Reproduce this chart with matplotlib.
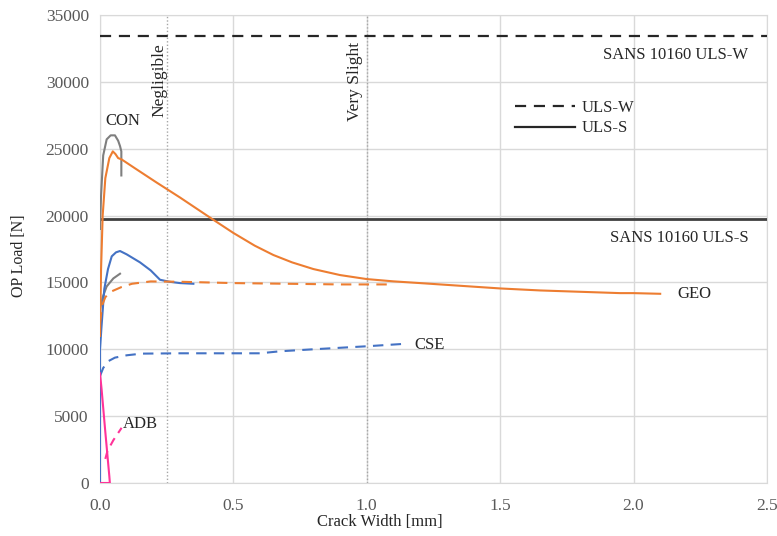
import matplotlib
matplotlib.use("Agg")
import matplotlib.pyplot as plt
from matplotlib.lines import Line2D

plt.rcParams['font.family'] = ['Liberation Serif', 'DejaVu Serif']

# GEO (solid, orange)
geo_x = [0.0, 0.004, 0.01, 0.02, 0.035, 0.048, 0.058, 0.068, 0.081, 0.13, 0.21, 0.3, 0.42,
         0.5, 0.58, 0.65, 0.72, 0.8, 0.9, 1.0, 1.1, 1.2, 1.35, 1.5, 1.65, 1.8, 1.95, 2.0, 2.1]
geo_y = [11000, 16000, 20000, 22800, 24300, 24800, 24600, 24300, 24200, 23550, 22500, 21350, 19750,
         18700, 17750, 17050, 16500, 16000, 15550, 15250, 15080, 14950, 14750, 14550, 14400, 14300, 14200, 14200, 14150]

# GEO (dashed, orange)
geo2_x = [0.0, 0.008, 0.02, 0.04, 0.08, 0.12, 0.19, 0.3, 0.5, 0.7, 0.9, 1.09]
geo2_y = [12000, 13300, 13900, 14300, 14650, 14900, 15075, 15050, 14950, 14900, 14850, 14850]

# CON (grey)
con_x = [0.0, 0.004, 0.012, 0.025, 0.04, 0.056, 0.068, 0.075, 0.08, 0.08]
con_y = [19000, 21500, 24500, 25700, 26000, 26000, 25600, 25200, 24800, 23000]
con2_x = [0.0, 0.01, 0.025, 0.05, 0.075]
con2_y = [13000, 13900, 14700, 15300, 15650]

# CSE (solid, blue)
cse_x = [0.0, 0.0, 0.005, 0.016, 0.03, 0.044, 0.06, 0.075, 0.1, 0.15, 0.19, 0.225, 0.26, 0.3, 0.35]
cse_y = [0, 10000, 11500, 14500, 16000, 16950, 17250, 17350, 17100, 16500, 15900, 15200, 15050, 14950, 14900]

# CSE (dashed, blue)
cse2_x = [0.0, 0.004, 0.012, 0.03, 0.056, 0.1, 0.156, 0.3, 0.45, 0.6, 0.675, 0.8, 1.0, 1.155]
cse2_y = [8000, 8200, 8600, 9100, 9375, 9550, 9675, 9700, 9700, 9700, 9850, 10000, 10225, 10425]

# ADB (solid and dashed, pink)
adb_x = [0.0, 0.037, 0.035, 0.02, 0.006, 0.0]
adb_y = [0, 0, 500, 3800, 7000, 8200]
adb2_x = [0.02, 0.028, 0.05, 0.081]
adb2_y = [1800, 2400, 3200, 4125]

uls_w = 33450
uls_s = 19750

fig = plt.figure(figsize=(7.77, 5.36), dpi=100)
ax = fig.add_axes([0.1287, 0.0989, 0.8583, 0.8731])

orange = '#ED7D31'
blue = '#4472C4'
grey = '#7F7F7F'
pink = '#FF3399'
txt = '#262626'

ax.axhline(uls_w, color='#262626', lw=1.6, ls=(0, (5, 3.5)), zorder=3)
ax.axhline(uls_s, color='#404040', lw=2.0, zorder=3)

# crack width limits
ax.axvline(0.25, color='#a6a6a6', lw=1.0, ls=(0, (1, 1.5)), zorder=1)
ax.axvline(1.0, color='#a6a6a6', lw=1.0, ls=(0, (1, 1.5)), zorder=1)

ax.plot(con_x, con_y, color=grey, lw=1.5, zorder=4)
ax.plot(con2_x, con2_y, color=grey, lw=1.5, zorder=4)
ax.plot(cse_x, cse_y, color=blue, lw=1.5, zorder=4)
ax.plot(cse2_x, cse2_y, color=blue, lw=1.5, ls=(0, (5, 3.5)), zorder=4)
ax.plot(geo2_x, geo2_y, color=orange, lw=1.5, ls=(0, (5, 3.5)), zorder=4)
ax.plot(geo_x, geo_y, color=orange, lw=1.5, zorder=5)
ax.plot(adb_x, adb_y, color=pink, lw=1.5, zorder=5)
ax.plot(adb2_x, adb2_y, color=pink, lw=1.5, ls=(0, (4, 3)), zorder=5)

ax.set_xlim(0, 2.5)
ax.set_ylim(0, 35000)
ax.set_xticks([0.0, 0.5, 1.0, 1.5, 2.0, 2.5])
ax.set_xticklabels(['0.0', '0.5', '1.0', '1.5', '2.0', '2.5'])
ax.set_yticks(range(0, 35001, 5000))
ax.tick_params(length=0, labelsize=12.5, labelcolor='#595959')
ax.tick_params(axis='x', pad=11)
ax.tick_params(axis='y', pad=8)
ax.grid(True, color='#d9d9d9', lw=1.0, zorder=0)
ax.set_axisbelow(True)
for s in ax.spines.values():
    s.set_color('#d9d9d9')

ax.set_xlabel('Crack Width [mm]', fontsize=12, color=txt)
ax.set_ylabel('OP Load [N]', fontsize=11.5, color=txt)
ax.xaxis.set_label_coords(0.42, -0.066)
ax.yaxis.set_label_coords(-0.11, 0.485)

ax.text(0.02, 27100, 'CON', fontsize=12, color=txt, ha='left', va='center')
ax.text(2.165, 14100, 'GEO', fontsize=12, color=txt, ha='left', va='center')
ax.text(1.18, 10350, 'CSE', fontsize=12, color=txt, ha='left', va='center')
ax.text(0.085, 4400, 'ADB', fontsize=12, color=txt, ha='left', va='center')
ax.text(2.43, 32000, 'SANS 10160 ULS-W', fontsize=12, color=txt, ha='right', va='center')
ax.text(2.43, 18300, 'SANS 10160 ULS-S', fontsize=12, color=txt, ha='right', va='center')
ax.text(0.221, 27400, 'Negligible', fontsize=12.5, color=txt, rotation=90, ha='center', va='bottom')
ax.text(0.956, 27100, 'Very Slight', fontsize=12.5, color=txt, rotation=90, ha='center', va='bottom')

handles = [Line2D([], [], color='#262626', lw=1.6, ls=(0, (5, 3.5))),
           Line2D([], [], color='#262626', lw=1.6)]
ax.legend(handles, ['ULS-W', 'ULS-S'], loc='upper left', bbox_to_anchor=(0.6, 0.85),
          frameon=False, fontsize=12, labelcolor=txt, handlelength=3.6,
          handletextpad=0.4, labelspacing=0.25)

fig.savefig('out.png', dpi=100)
